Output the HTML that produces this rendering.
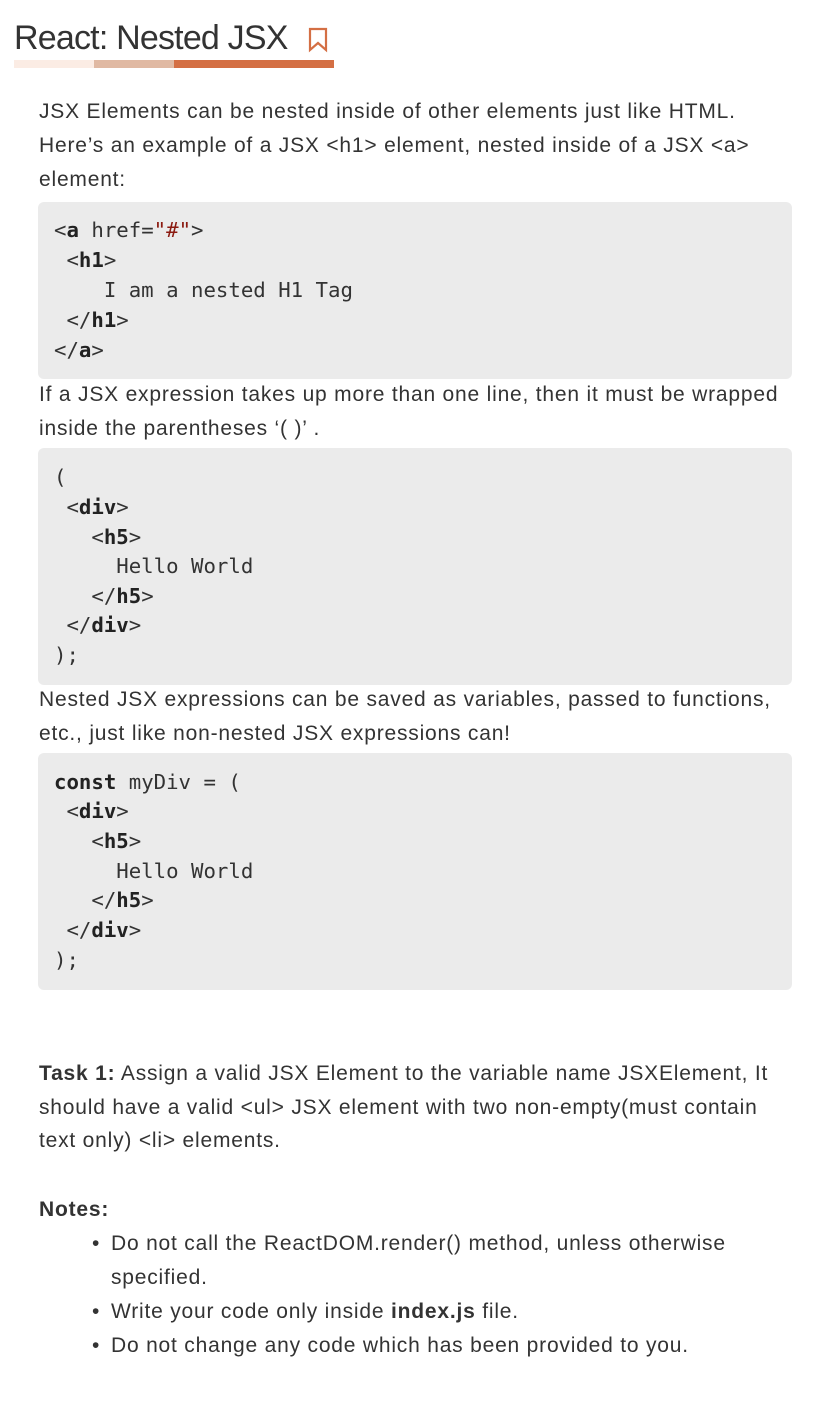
<!DOCTYPE html>
<html><head><meta charset="utf-8"><style>
body{margin:0;width:826px;height:1408px;background:#fff;position:relative;font-family:"Liberation Sans",sans-serif;color:#333;overflow:hidden}
.t{position:absolute;left:39px;height:34px;line-height:34px;font-size:21px;letter-spacing:0.8px;white-space:nowrap}
.cb{position:absolute;left:38px;width:754px;background:#ebebeb;border-radius:6px}
.c{position:absolute;left:54px;height:30px;line-height:30px;font-family:"DejaVu Sans Mono",monospace;font-size:20.7px;color:#333;white-space:pre}
.c b{color:#222}
.s{color:#8b1a10}
.bu{position:absolute;left:92px;height:34px;line-height:34px;font-size:21px}
</style></head><body>
<div style="position:absolute;left:14px;top:16px;font-size:34px;letter-spacing:-0.8px;line-height:44px;color:#333">React: Nested JSX</div>
<svg style="position:absolute;left:308px;top:27px" width="22" height="26" viewBox="0 0 22 26"><path d="M2 2H18V23L10 16L2 23Z" fill="none" stroke="#d46f44" stroke-width="2.2" stroke-linejoin="miter"/></svg>
<div style="position:absolute;left:14px;top:60px;width:80px;height:8px;background:#fbece4"></div>
<div style="position:absolute;left:94px;top:60px;width:80px;height:8px;background:#e0b9a3"></div>
<div style="position:absolute;left:174px;top:60px;width:160px;height:8px;background:#d46f44"></div>

<div class="t" style="top:95px">JSX Elements can be nested inside of other elements just like HTML.</div>
<div class="t" style="top:129px">Here’s an example of a JSX &lt;h1&gt; element, nested inside of a JSX &lt;a&gt;</div>
<div class="t" style="top:163px">element:</div>

<div class="cb" style="top:202px;height:177px"></div>
<div class="c" style="top:215px">&lt;<b>a</b> href=<span class="s">"#"</span>&gt;</div>
<div class="c" style="top:245px"> &lt;<b>h1</b>&gt;</div>
<div class="c" style="top:275px">    I am a nested H1 Tag</div>
<div class="c" style="top:305px"> &lt;/<b>h1</b>&gt;</div>
<div class="c" style="top:335px">&lt;/<b>a</b>&gt;</div>

<div class="t" style="top:378px">If a JSX expression takes up more than one line, then it must be wrapped</div>
<div class="t" style="top:412px">inside the parentheses ‘( )’ .</div>

<div class="cb" style="top:448px;height:237px"></div>
<div class="c" style="top:462px">(</div>
<div class="c" style="top:492px"> &lt;<b>div</b>&gt;</div>
<div class="c" style="top:522px">   &lt;<b>h5</b>&gt;</div>
<div class="c" style="top:551px">     Hello World</div>
<div class="c" style="top:581px">   &lt;/<b>h5</b>&gt;</div>
<div class="c" style="top:610px"> &lt;/<b>div</b>&gt;</div>
<div class="c" style="top:640px">);</div>

<div class="t" style="top:683px">Nested JSX expressions can be saved as variables, passed to functions,</div>
<div class="t" style="top:717px">etc., just like non-nested JSX expressions can!</div>

<div class="cb" style="top:753px;height:237px"></div>
<div class="c" style="top:767px"><b>const</b> myDiv = (</div>
<div class="c" style="top:796px"> &lt;<b>div</b>&gt;</div>
<div class="c" style="top:826px">   &lt;<b>h5</b>&gt;</div>
<div class="c" style="top:856px">     Hello World</div>
<div class="c" style="top:885px">   &lt;/<b>h5</b>&gt;</div>
<div class="c" style="top:915px"> &lt;/<b>div</b>&gt;</div>
<div class="c" style="top:945px">);</div>

<div class="t" style="top:1057px"><b>Task 1:</b> Assign a valid JSX Element to the variable name JSXElement, It</div>
<div class="t" style="top:1091px">should have a valid &lt;ul&gt; JSX element with two non-empty(must contain</div>
<div class="t" style="top:1124px">text only) &lt;li&gt; elements.</div>

<div class="t" style="top:1193px"><b>Notes:</b></div>
<div class="bu" style="top:1227px">•</div>
<div class="t" style="top:1227px;left:111px">Do not call the ReactDOM.render() method, unless otherwise</div>
<div class="t" style="top:1261px;left:111px">specified.</div>
<div class="bu" style="top:1295px">•</div>
<div class="t" style="top:1295px;left:111px">Write your code only inside <b>index.js</b> file.</div>
<div class="bu" style="top:1329px">•</div>
<div class="t" style="top:1329px;left:111px">Do not change any code which has been provided to you.</div>
</body></html>
